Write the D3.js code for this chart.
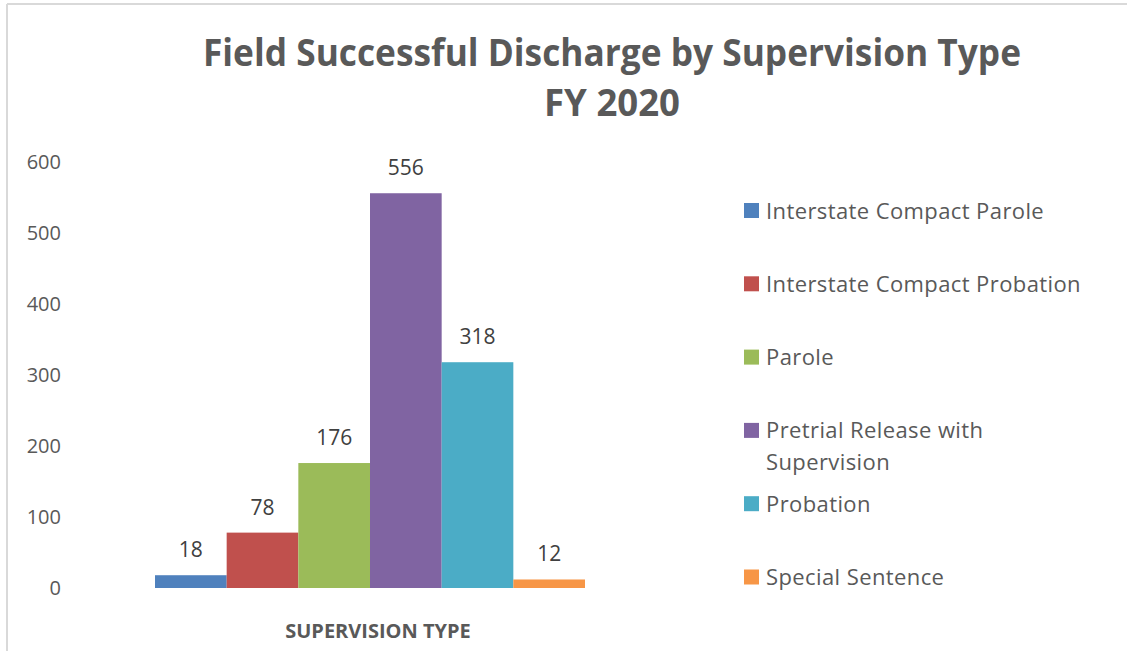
<!DOCTYPE html>
<html>
<head>
<meta charset="utf-8">
<script src="https://cdn.jsdelivr.net/npm/d3@7"></script>
<style>
  body { margin: 0; background: #fff; }
  svg { display: block; font-family: "Open Sans", sans-serif; }
</style>
</head>
<body>
<svg id="chart" width="1127" height="651"></svg>
<script>
var category = ["Supervision Type"];
var seriesNames = ["Interstate Compact Parole", "Interstate Compact Probation", "Parole",
  "Pretrial Release with Supervision", "Probation", "Special Sentence"];
var seriesValues = [18, 78, 176, 556, 318, 12];
var seriesColors = ["#4F81BD", "#C0504D", "#9BBB59", "#8064A2", "#4BACC6", "#F79646"];
var yTicks = [0, 100, 200, 300, 400, 500, 600];
var titleLines = ["Field Successful Discharge by Supervision Type", "FY 2020"];
var xTitle = "SUPERVISION TYPE";

var svg = d3.select("#chart");
var textColor = "#595959";

// frame (only top and left edges show in the original)
svg.append("line").attr("x1", 7).attr("x2", 1127).attr("y1", 4).attr("y2", 4)
  .attr("stroke", "#d9d9d9").attr("stroke-width", 2);
svg.append("line").attr("x1", 7).attr("x2", 7).attr("y1", 4).attr("y2", 651)
  .attr("stroke", "#d9d9d9").attr("stroke-width", 2);

// title
svg.append("text").attr("x", 612).attr("y", 66).attr("text-anchor", "middle")
  .attr("font-size", 38).attr("font-weight", "bold").attr("fill", textColor)
  .attr("textLength", 818).attr("lengthAdjust", "spacingAndGlyphs")
  .text(titleLines[0]);
svg.append("text").attr("x", 612).attr("y", 116).attr("text-anchor", "middle")
  .attr("font-size", 38).attr("font-weight", "bold").attr("fill", textColor)
  .attr("textLength", 136).attr("lengthAdjust", "spacingAndGlyphs")
  .text(titleLines[1]);

var y = d3.scaleLinear().domain([0, 600]).range([588, 162]);
var x0 = d3.scaleBand().domain(category).range([155, 585]);
var x1 = d3.scaleBand().domain(seriesNames).range([0, x0.bandwidth()]);

// y axis labels only, no line or ticks
var yAxis = svg.append("g").attr("transform", "translate(61,0)")
  .call(d3.axisLeft(y).tickValues(yTicks).tickSize(0).tickPadding(0));
yAxis.select(".domain").remove();
yAxis.selectAll("text").attr("font-size", 20).attr("fill", textColor)
  .attr("font-family", "Open Sans, sans-serif");

var bars = svg.append("g").attr("transform", "translate(" + x0(category[0]) + ",0)");
bars.selectAll("rect").data(seriesValues).enter().append("rect")
  .attr("x", function(d, i){ return x1(seriesNames[i]); })
  .attr("width", x1.bandwidth())
  .attr("y", function(d){ return y(d); })
  .attr("height", function(d){ return y(0) - y(d); })
  .attr("fill", function(d, i){ return seriesColors[i]; });

bars.selectAll("text.val").data(seriesValues).enter().append("text")
  .attr("class", "val")
  .attr("x", function(d, i){ return x1(seriesNames[i]) + x1.bandwidth() / 2; })
  .attr("y", function(d){ return y(d) - 18; })
  .attr("text-anchor", "middle").attr("font-size", 21).attr("fill", "#404040")
  .text(function(d){ return d; });

svg.append("text").attr("x", 378).attr("y", 638).attr("text-anchor", "middle")
  .attr("font-size", 20).attr("font-weight", "bold").attr("fill", textColor)
  .text(xTitle);

// legend
var legendY = d3.scalePoint().domain(seriesNames).range([210.5, 577]);
var legend = svg.append("g");
var items = legend.selectAll("g").data(seriesNames).enter().append("g")
  .attr("transform", function(d){ return "translate(744," + legendY(d) + ")"; });
items.append("rect").attr("x", 0).attr("y", -7.5).attr("width", 15).attr("height", 15)
  .attr("fill", function(d, i){ return seriesColors[i]; });
items.append("text").attr("x", 22).attr("y", 8)
  .attr("font-size", 22).attr("letter-spacing", 0.4).attr("fill", textColor)
  .each(function(d){
    var t = d3.select(this);
    // wrap the long one the way the original does
    var lines = d === "Pretrial Release with Supervision" ? ["Pretrial Release with", "Supervision"] : [d];
    lines.forEach(function(line, k){
      t.append("tspan").attr("x", 22).attr("dy", k === 0 ? 0 : 32).text(line);
    });
  });
</script>
</body>
</html>
